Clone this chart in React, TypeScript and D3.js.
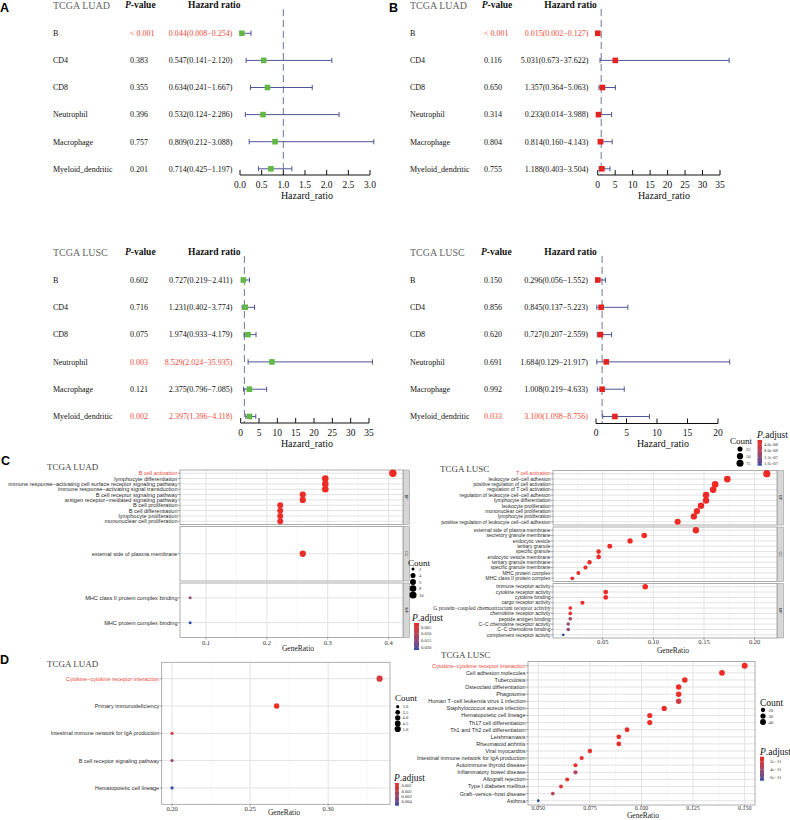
import React from 'react';
import * as d3 from 'd3';

const SERIF = '"Liberation Serif", "DejaVu Serif", serif';
const SANS = '"Liberation Sans", Arial, sans-serif';

// ---------------- Forest plot data ----------------
const cellTypes = ['B', 'CD4', 'CD8', 'Neutrophil', 'Macrophage', 'Myeloid_dendritic'];

const luadTimerP = ['< 0.001', '0.383', '0.355', '0.396', '0.757', '0.201'];
const luadTimerHR = [0.044, 0.547, 0.634, 0.532, 0.809, 0.714];
const luadTimerLow = [0.008, 0.141, 0.241, 0.124, 0.212, 0.425];
const luadTimerHigh = [0.254, 2.12, 1.667, 2.286, 3.088, 1.197];

const luadCibP = ['< 0.001', '0.116', '0.650', '0.314', '0.804', '0.755'];
const luadCibHR = [0.015, 5.031, 1.357, 0.233, 0.814, 1.188];
const luadCibLow = [0.002, 0.673, 0.364, 0.014, 0.16, 0.403];
const luadCibHigh = [0.127, 37.622, 5.063, 3.988, 4.143, 3.504];

const luscTimerP = ['0.602', '0.716', '0.075', '0.003', '0.121', '0.002'];
const luscTimerHR = [0.727, 1.231, 1.974, 8.529, 2.375, 2.397];
const luscTimerLow = [0.219, 0.402, 0.933, 2.024, 0.796, 1.396];
const luscTimerHigh = [2.411, 3.774, 4.179, 35.935, 7.085, 4.118];

const luscCibP = ['0.150', '0.856', '0.620', '0.691', '0.992', '0.033'];
const luscCibHR = [0.296, 0.845, 0.727, 1.684, 1.008, 3.1];
const luscCibLow = [0.056, 0.137, 0.207, 0.129, 0.219, 1.098];
const luscCibHigh = [1.552, 5.223, 2.559, 21.917, 4.633, 8.756];

const hrTicks3 = [0, 0.5, 1, 1.5, 2, 2.5, 3];
const hrTicks35 = [0, 5, 10, 15, 20, 25, 30, 35];
const hrTicks20 = [0, 5, 10, 15, 20];

// ---------------- GO / KEGG data ----------------
const luadBPTerms = ['B cell activation', 'lymphocyte differentiation', 'immune response−activating cell surface receptor signaling pathway', 'immune response−activating signal transduction', 'B cell receptor signaling pathway', 'antigen receptor−mediated signaling pathway', 'B cell proliferation', 'B cell differentiation', 'lymphocyte proliferation', 'mononuclear cell proliferation'];
const luadBPRatio = [0.407, 0.296, 0.296, 0.296, 0.259, 0.259, 0.222, 0.222, 0.222, 0.222];
const luadBPCount = [11, 8, 8, 8, 7, 7, 6, 6, 6, 6];
const luadBPPadj = [0.002, 0.0021, 0.0021, 0.0021, 0.0023, 0.0023, 0.0025, 0.0025, 0.0025, 0.0025];
const luadCCTerms = ['external side of plasma membrane'];
const luadCCRatio = [0.259];
const luadCCCount = [7];
const luadCCPadj = [0.0027];
const luadMFTerms = ['MHC class II protein complex binding', 'MHC protein complex binding'];
const luadMFRatio = [0.074, 0.074];
const luadMFCount = [2, 2];
const luadMFPadj = [0.014, 0.0223];

const luscBPTerms = ['T cell activation', 'leukocyte cell−cell adhesion', 'positive regulation of cell activation', 'regulation of T cell activation', 'regulation of leukocyte cell−cell adhesion', 'lymphocyte differentiation', 'leukocyte proliferation', 'mononuclear cell proliferation', 'lymphocyte proliferation', 'positive regulation of leukocyte cell−cell adhesion'];
const luscBPRatio = [0.212, 0.173, 0.161, 0.159, 0.152, 0.152, 0.147, 0.143, 0.14, 0.124];
const luscBPCount = [81, 66, 61, 60, 58, 58, 56, 54, 53, 47];
const luscBPPadj = [1.3e-8, 1.3e-8, 1.3e-8, 1.3e-8, 1.3e-8, 1.3e-8, 1.3e-8, 1.3e-8, 1.3e-8, 1.4e-8];
const luscCCTerms = ['external side of plasma membrane', 'secretory granule membrane', 'endocytic vesicle', 'tertiary granule', 'specific granule', 'endocytic vesicle membrane', 'tertiary granule membrane', 'specific granule membrane', 'MHC protein complex', 'MHC class II protein complex'];
const luscCCRatio = [0.142, 0.091, 0.077, 0.057, 0.046, 0.046, 0.037, 0.033, 0.026, 0.02];
const luscCCCount = [54, 35, 29, 22, 17, 17, 14, 13, 10, 8];
const luscCCPadj = [1.3e-8, 1.3e-8, 1.4e-8, 1.5e-8, 1.6e-8, 1.6e-8, 1.7e-8, 1.8e-8, 1.9e-8, 2.0e-8];
const luscMFTerms = ['immune receptor activity', 'cytokine receptor activity', 'cytokine binding', 'cargo receptor activity', 'G protein−coupled chemoattractant receptor activity', 'chemokine receptor activity', 'peptide antigen binding', 'C−C chemokine receptor activity', 'C−C chemokine binding', 'complement receptor activity'];
const luscMFRatio = [0.092, 0.053, 0.053, 0.03, 0.018, 0.018, 0.018, 0.016, 0.016, 0.011];
const luscMFCount = [35, 20, 20, 11, 7, 7, 7, 6, 6, 4];
const luscMFPadj = [1.3e-8, 1.5e-8, 1.5e-8, 1.6e-8, 2.0e-8, 2.2e-8, 9.5e-8, 1.05e-7, 1.2e-7, 1.72e-7];

const luadKeggTerms = ['Cytokine−cytokine receptor interaction', 'Primary immunodeficiency', 'Intestinal immune network for IgA production', 'B cell receptor signaling pathway', 'Hematopoietic cell lineage'];
const luadKeggRatio = [0.333, 0.267, 0.2, 0.2, 0.2];
const luadKeggCount = [5, 4, 3, 3, 3];
const luadKeggPadj = [0.0012, 0.0005, 0.0014, 0.003, 0.0048];

const luscKeggTerms = ['Cytokine−cytokine receptor interaction', 'Cell adhesion molecules', 'Tuberculosis', 'Osteoclast differentiation', 'Phagosome', 'Human T−cell leukemia virus 1 infection', 'Staphylococcus aureus infection', 'Hematopoietic cell lineage', 'Th17 cell differentiation', 'Th1 and Th2 cell differentiation', 'Leishmaniasis', 'Rheumatoid arthritis', 'Viral myocarditis', 'Intestinal immune network for IgA production', 'Autoimmune thyroid disease', 'Inflammatory bowel disease', 'Allograft rejection', 'Type I diabetes mellitus', 'Graft−versus−host disease', 'Asthma'];
const luscKeggRatio = [0.15, 0.139, 0.121, 0.118, 0.118, 0.118, 0.111, 0.104, 0.104, 0.093, 0.089, 0.089, 0.075, 0.071, 0.068, 0.068, 0.064, 0.061, 0.057, 0.05];
const luscKeggCount = [42, 39, 34, 33, 33, 33, 31, 29, 29, 26, 25, 25, 21, 20, 19, 19, 18, 17, 16, 14];
const luscKeggPadj = [7.2e-12, 7.5e-12, 8e-12, 8e-12, 8.5e-12, 1.9e-11, 9e-12, 9.5e-12, 9.5e-12, 1e-11, 1e-11, 1e-11, 1.1e-11, 1.1e-11, 1.2e-11, 3.4e-11, 1.2e-11, 1.3e-11, 3.0e-11, 6.9e-11];

const goLuadTicks = [0.1, 0.2, 0.3, 0.4];
const goLuscTicks = [0.05, 0.1, 0.15, 0.2];
const keggLuadTicks = [0.2, 0.25, 0.3];
const keggLuscTicks = [0.05, 0.075, 0.1, 0.125, 0.15];

const countLegendLuadGO = [2, 4, 6, 8, 10];
const countLegendLuscGO = [25, 50, 75];
const countLegendLuadKegg = [3, 3.5, 4, 4.5, 5];
const countLegendLuscKegg = [20, 30, 40];
const padjBreaksLuadGO = [0.005, 0.01, 0.015, 0.02];
const padjBreaksLuscGO = [4e-8, 8e-8, 1.2e-7, 1.6e-7];
const padjBreaksLuadKegg = [0.001, 0.002, 0.003, 0.004];
const padjBreaksLuscKegg = [2e-11, 4e-11, 6e-11];

const highlightTerms = ['B cell activation', 'T cell activation', 'Cytokine−cytokine receptor interaction'];
const serifTerms = ['G protein−coupled chemoattractant receptor activity'];

// ---------------- styles ----------------
const RED_TXT = '#ef4a38';
const GREEN = '#62b843';
const RED_SQ = '#e42320';
const BAR = '#4e5596';
const DASH = '#70759c';
const GO_LOW = '#ee2a24';
const GO_HIGH = '#2f4fa6';

const isSig = (s: string) => s.trim().startsWith('<') || parseFloat(s) < 0.05;

type FL = {
  labelX: number; pX: number; hrRight: number; pHeadX: number; hHeadX: number;
  ax0: number; ax1: number; axisY: number; headerY: number; row0: number; rowStep: number;
  lineTop: number; hrLabelX: number;
};

function Forest(props: { title: string; p: string[]; hr: number[]; low: number[]; high: number[]; color: string; ticks: number[]; fmt: (v: number) => string; L: FL }) {
  const { title, p, hr, low, high, color, ticks, fmt, L } = props;
  const x = d3.scaleLinear().domain([ticks[0], ticks[ticks.length - 1]]).range([L.ax0, L.ax1]);
  const y = d3.scaleLinear().domain([0, 1]).range([L.row0, L.row0 + L.rowStep]);
  const sq = 5.6;
  return (
    <g>
      <text x={L.labelX} y={L.headerY} dy="0.35em" fontFamily={SERIF} fontSize={10} fill="#666">{title}</text>
      <text x={L.pHeadX} y={L.headerY} dy="0.35em" fontFamily={SERIF} fontSize={9.5} fontWeight="bold" fill="#111">
        <tspan fontStyle="italic">P</tspan>-value
      </text>
      <text x={L.hHeadX} y={L.headerY} dy="0.35em" fontFamily={SERIF} fontSize={9.5} fontWeight="bold" fill="#111">Hazard ratio</text>
      <line x1={x(1)} x2={x(1)} y1={L.lineTop} y2={L.axisY} stroke={DASH} strokeWidth={1} strokeDasharray="7,4" />
      {cellTypes.map((c, i) => {
        const yy = y(i);
        const col = isSig(p[i]) ? RED_TXT : '#111';
        return (
          <g key={c}>
            <text x={L.labelX} y={yy} dy="0.35em" fontFamily={SERIF} fontSize={8} fill="#111">{c}</text>
            <text x={L.pX} y={yy} dy="0.35em" fontFamily={SERIF} fontSize={8} fill={col}>{p[i]}</text>
            <text x={L.hrRight} y={yy} dy="0.35em" textAnchor="end" fontFamily={SERIF} fontSize={8} fill={col}>
              {`${hr[i].toFixed(3)}(${low[i].toFixed(3)}−${high[i].toFixed(3)})`}
            </text>
            <line x1={x(low[i])} x2={x(high[i])} y1={yy} y2={yy} stroke={BAR} strokeWidth={1} />
            <line x1={x(low[i])} x2={x(low[i])} y1={yy - 2.6} y2={yy + 2.6} stroke={BAR} strokeWidth={1} />
            <line x1={x(high[i])} x2={x(high[i])} y1={yy - 2.6} y2={yy + 2.6} stroke={BAR} strokeWidth={1} />
            <rect x={x(hr[i]) - sq / 2} y={yy - sq / 2} width={sq} height={sq} fill={color} />
          </g>
        );
      })}
      <line x1={L.ax0} x2={L.ax1} y1={L.axisY} y2={L.axisY} stroke="#111" strokeWidth={1} />
      {ticks.map((t) => (
        <g key={t}>
          <line x1={x(t)} x2={x(t)} y1={L.axisY} y2={L.axisY - 5} stroke="#111" strokeWidth={1} />
          <text x={x(t)} y={L.axisY + 9.5} dy="0.35em" textAnchor="middle" fontFamily={SERIF} fontSize={9.5} fill="#111">{fmt(t)}</text>
        </g>
      ))}
      <text x={L.hrLabelX} y={L.axisY + 20} dy="0.35em" textAnchor="middle" fontFamily={SERIF} fontSize={10} fill="#111">Hazard_ratio</text>
    </g>
  );
}

type Facet = { strip?: string; terms: string[]; ratio: number[]; count: number[]; padj: number[] };

function sizeFn(cmin: number, cmax: number, rmin: number, rmax: number) {
  const n = d3.scaleLinear().domain([cmin, cmax]).range([0, 1]).clamp(true);
  return (c: number) => rmin + (rmax - rmin) * Math.sqrt(n(c));
}

function GoPlot(props: {
  facets: Facet[]; left: number; right: number; tops: number[]; height: number; stripW: number;
  labelSize: number; ticks: number[]; fmt: (v: number) => string; tickSize: number; tickOffset: number;
  titleX: number; titleY: number; size: (c: number) => number; color: (v: number) => string;
}) {
  const { facets, left, right, tops, height, stripW, labelSize, ticks, fmt, tickSize, tickOffset, titleX, titleY, size, color } = props;
  const allR = facets.flatMap((f) => f.ratio);
  const lo = d3.min(allR) as number;
  const hi = d3.max(allR) as number;
  const pad = (hi - lo) * 0.05;
  const x = d3.scaleLinear().domain([lo - pad, hi + pad]).range([left, right]);
  const step = ticks[1] - ticks[0];
  const minor = d3.range(ticks[0] - step / 2, ticks[ticks.length - 1] + step, step).filter((v) => x(v) > left && x(v) < right);
  const bottom = tops[tops.length - 1] + height;
  return (
    <g>
      {facets.map((f, fi) => {
        const top = tops[fi];
        const y = d3.scalePoint<string>().domain(f.terms).range([top, top + height]).padding(0.6);
        return (
          <g key={fi}>
            <rect x={left} y={top} width={right - left} height={height} fill="#fff" />
            {minor.map((m) => (
              <line key={'m' + m} x1={x(m)} x2={x(m)} y1={top} y2={top + height} stroke="#ececec" strokeWidth={0.5} />
            ))}
            {ticks.map((t) => (
              <line key={'t' + t} x1={x(t)} x2={x(t)} y1={top} y2={top + height} stroke="#e3e3e3" strokeWidth={1} />
            ))}
            {f.terms.map((t) => (
              <line key={'h' + t} x1={left} x2={right} y1={y(t)} y2={y(t)} stroke="#e3e3e3" strokeWidth={1} />
            ))}
            <rect x={left} y={top} width={right - left} height={height} fill="none" stroke="#9a9a9a" strokeWidth={0.8} />
            {f.terms.map((t) => {
              const yy = y(t) as number;
              const hl = highlightTerms.includes(t);
              const serif = serifTerms.includes(t);
              return (
                <g key={'l' + t}>
                  <line x1={left - 2} x2={left} y1={yy} y2={yy} stroke="#555" strokeWidth={0.5} />
                  <text x={left - 2.5} y={yy} dy="0.35em" textAnchor="end" fontFamily={serif ? SERIF : SANS}
                    fontSize={serif ? labelSize + 0.6 : labelSize} fill={hl ? RED_TXT : '#2a2a2a'}>{t}</text>
                </g>
              );
            })}
            {f.terms.map((t, i) => (
              <circle key={'c' + t} cx={x(f.ratio[i])} cy={y(t) as number} r={size(f.count[i])} fill={color(f.padj[i])} />
            ))}
            {f.strip && (
              <g>
                <rect x={right + 0.5} y={top} width={stripW} height={height} fill="#d6d6d6" stroke="#9a9a9a" strokeWidth={0.6} />
                <text transform={`translate(${right + 0.5 + stripW / 2},${top + height / 2}) rotate(90)`} textAnchor="middle" dy="0.35em"
                  fontFamily={SANS} fontSize={3.8} fill="#333">{f.strip}</text>
              </g>
            )}
          </g>
        );
      })}
      {ticks.map((t) => (
        <g key={'xt' + t}>
          <line x1={x(t)} x2={x(t)} y1={bottom} y2={bottom + 2} stroke="#555" strokeWidth={0.5} />
          <text x={x(t)} y={bottom + tickOffset} dy="0.35em" textAnchor="middle" fontFamily={SERIF} fontSize={tickSize} fill="#333">{fmt(t)}</text>
        </g>
      ))}
      <text x={titleX} y={titleY} dy="0.35em" textAnchor="middle" fontFamily={SERIF} fontSize={7.5} fill="#222">GeneRatio</text>
    </g>
  );
}

function CountLegend(props: { x: number; titleY: number; dotX: number; ys: number[]; values: number[]; size: (c: number) => number; fmt: (v: number) => string; labelX: number; titleSize: number }) {
  const { x, titleY, dotX, ys, values, size, fmt, labelX, titleSize } = props;
  const y = d3.scaleLinear().domain([0, values.length - 1]).range(ys);
  return (
    <g>
      <text x={x} y={titleY} dy="0.35em" fontFamily={SERIF} fontSize={titleSize} fill="#111">Count</text>
      {values.map((v, i) => (
        <g key={v}>
          <circle cx={dotX} cy={y(i)} r={size(v)} fill="#000" />
          <text x={labelX} y={y(i)} dy="0.35em" fontFamily={SERIF} fontSize={4.6} fill="#333">{fmt(v)}</text>
        </g>
      ))}
    </g>
  );
}

function ColorBar(props: { id: string; titleX: number; titleY: number; x: number; w: number; y0: number; y1: number; domain: number[]; breaks: number[]; fmt: (v: number) => string; labelX: number; color: (v: number) => string }) {
  const { id, titleX, titleY, x, w, y0, y1, domain, breaks, fmt, labelX, color } = props;
  const s = d3.scaleLinear().domain(domain).range([y0, y1]);
  const stops = d3.range(0, 1.0001, 0.1);
  return (
    <g>
      <defs>
        <linearGradient id={id} x1="0" y1="0" x2="0" y2="1">
          {stops.map((t) => (
            <stop key={t} offset={t} stopColor={color(domain[0] + t * (domain[1] - domain[0]))} />
          ))}
        </linearGradient>
      </defs>
      <text x={titleX} y={titleY} dy="0.35em" fontFamily={SERIF} fontSize={9.5} fill="#111">
        <tspan fontStyle="italic">P</tspan>.adjust
      </text>
      <rect x={x} y={y0} width={w} height={y1 - y0} fill={`url(#${id})`} />
      {breaks.map((b) => (
        <g key={b}>
          <line x1={x} x2={x + 1} y1={s(b)} y2={s(b)} stroke="#fff" strokeWidth={0.4} />
          <line x1={x + w - 1} x2={x + w} y1={s(b)} y2={s(b)} stroke="#fff" strokeWidth={0.4} />
          <text x={labelX} y={s(b)} dy="0.35em" fontFamily={SERIF} fontSize={4.6} fill="#333">{fmt(b)}</text>
        </g>
      ))}
    </g>
  );
}

const expFmt2 = (v: number) => {
  const [m, e] = v.toExponential(1).split('e');
  const sign = e.startsWith('-') ? '-' : '+';
  const d = e.replace(/[-+]/, '').padStart(2, '0');
  return `${m}e${sign}${d}`;
};
const expFmt0 = (v: number) => v.toExponential(0).replace('-', '−');

function colorScale(values: number[]) {
  const dom = [d3.min(values) as number, d3.max(values) as number];
  const c = d3.scaleLinear<string>().domain(dom).range([GO_LOW, GO_HIGH]).interpolate(d3.interpolateLab).clamp(true);
  return { dom, c };
}

export default function App() {
  const fmt1 = d3.format('.1f');
  const fmt0 = d3.format('d');

  const cLuad = colorScale([...luadBPPadj, ...luadCCPadj, ...luadMFPadj]);
  const cLusc = colorScale([...luscBPPadj, ...luscCCPadj, ...luscMFPadj]);
  const dLuad = colorScale(luadKeggPadj);
  const dLusc = colorScale(luscKeggPadj);

  const sCLuad = sizeFn(d3.min([...luadBPCount, ...luadCCCount, ...luadMFCount]) as number, d3.max([...luadBPCount, ...luadCCCount, ...luadMFCount]) as number, 1.5, 3.7);
  const sCLusc = sizeFn(d3.min([...luscBPCount, ...luscCCCount, ...luscMFCount]) as number, d3.max([...luscBPCount, ...luscCCCount, ...luscMFCount]) as number, 1.4, 3.6);
  const sDLuad = sizeFn(d3.min(luadKeggCount) as number, d3.max(luadKeggCount) as number, 1.6, 3.1);
  const sDLusc = sizeFn(d3.min(luscKeggCount) as number, d3.max(luscKeggCount) as number, 1.4, 3.0);

  const letter = (t: string, x: number, y: number) => (
    <text x={x} y={y} fontFamily={SANS} fontWeight="bold" fontSize={12.5} fill="#000">{t}</text>
  );

  return (
    <svg width={790} height={820} style={{ position: 'absolute', left: 0, top: 0, background: '#fff' }}>
      <rect x={0} y={0} width={790} height={820} fill="#fff" />
      {letter('A', 0, 12)}
      {letter('B', 389, 12)}
      {letter('C', 1, 465)}
      {letter('D', 0, 664)}

      <Forest title="TCGA LUAD" p={luadTimerP} hr={luadTimerHR} low={luadTimerLow} high={luadTimerHigh} color={GREEN}
        ticks={hrTicks3} fmt={fmt1}
        L={{ labelX: 53, pX: 130, hrRight: 232.5, pHeadX: 125, hHeadX: 188, ax0: 240, ax1: 370, axisY: 175, headerY: 5, row0: 33.3, rowStep: 27.1, lineTop: 9, hrLabelX: 307 }} />
      <Forest title="TCGA LUAD" p={luadCibP} hr={luadCibHR} low={luadCibLow} high={luadCibHigh} color={RED_SQ}
        ticks={hrTicks35} fmt={fmt0}
        L={{ labelX: 410, pX: 484, hrRight: 588.5, pHeadX: 481.7, hHeadX: 544.3, ax0: 597.7, ax1: 720, axisY: 175, headerY: 5, row0: 33.3, rowStep: 27.1, lineTop: 9, hrLabelX: 664 }} />
      <Forest title="TCGA LUSC" p={luscTimerP} hr={luscTimerHR} low={luscTimerLow} high={luscTimerHigh} color={GREEN}
        ticks={hrTicks35} fmt={fmt0}
        L={{ labelX: 53, pX: 130, hrRight: 232.5, pHeadX: 125, hHeadX: 188, ax0: 240.7, ax1: 369, axisY: 423, headerY: 252, row0: 280, rowStep: 27.3, lineTop: 256, hrLabelX: 307 }} />
      <Forest title="TCGA LUSC" p={luscCibP} hr={luscCibHR} low={luscCibLow} high={luscCibHigh} color={RED_SQ}
        ticks={hrTicks20} fmt={fmt0}
        L={{ labelX: 410, pX: 484, hrRight: 588, pHeadX: 481, hHeadX: 544.3, ax0: 596, ax1: 718, axisY: 423.5, headerY: 252, row0: 280, rowStep: 27.3, lineTop: 256, hrLabelX: 663 }} />

      {/* Panel C */}
      <text x={47} y={467} dy="0.35em" fontFamily={SERIF} fontSize={9} fill="#444">TCGA LUAD</text>
      <GoPlot
        facets={[
          { strip: 'BP', terms: luadBPTerms, ratio: luadBPRatio, count: luadBPCount, padj: luadBPPadj },
          { strip: 'CC', terms: luadCCTerms, ratio: luadCCRatio, count: luadCCCount, padj: luadCCPadj },
          { strip: 'MF', terms: luadMFTerms, ratio: luadMFRatio, count: luadMFCount, padj: luadMFPadj },
        ]}
        left={180} right={403} tops={[470, 526.5, 583]} height={54.5} stripW={6}
        labelSize={5.6} ticks={goLuadTicks} fmt={d3.format('.1f')} tickSize={6.5} tickOffset={5.5}
        titleX={298} titleY={648} size={sCLuad} color={cLuad.c} />
      <CountLegend x={408} titleY={563} dotX={413} ys={[569, 595]} values={countLegendLuadGO} size={sCLuad} fmt={fmt0} labelX={419} titleSize={9} />
      <ColorBar id="gC1" titleX={412} titleY={618} x={414} w={5} y0={623} y1={650} domain={cLuad.dom} breaks={padjBreaksLuadGO}
        fmt={d3.format('.3f')} labelX={421} color={cLuad.c} />

      <text x={440} y={469} dy="0.35em" fontFamily={SERIF} fontSize={9} fill="#444">TCGA LUSC</text>
      <GoPlot
        facets={[
          { strip: 'BP', terms: luscBPTerms, ratio: luscBPRatio, count: luscBPCount, padj: luscBPPadj },
          { strip: 'CC', terms: luscCCTerms, ratio: luscCCRatio, count: luscCCCount, padj: luscCCPadj },
          { strip: 'MF', terms: luscMFTerms, ratio: luscMFRatio, count: luscMFCount, padj: luscMFPadj },
        ]}
        left={553} right={777} tops={[470.5, 527, 583.5]} height={54.5} stripW={6}
        labelSize={5} ticks={goLuscTicks} fmt={d3.format('.2f')} tickSize={6.5} tickOffset={4}
        titleX={673} titleY={650} size={sCLusc} color={cLusc.c} />
      <CountLegend x={730} titleY={440.7} dotX={740} ys={[449, 463.3]} values={countLegendLuscGO} size={sCLusc} fmt={fmt0} labelX={746} titleSize={9} />
      <ColorBar id="gC2" titleX={757} titleY={435} x={757.5} w={4.5} y0={440} y1={465.7} domain={cLusc.dom} breaks={padjBreaksLuscGO}
        fmt={expFmt2} labelX={764} color={cLusc.c} />

      {/* Panel D */}
      <text x={47} y={664} dy="0.35em" fontFamily={SERIF} fontSize={9} fill="#444">TCGA LUAD</text>
      <GoPlot
        facets={[{ terms: luadKeggTerms, ratio: luadKeggRatio, count: luadKeggCount, padj: luadKeggPadj }]}
        left={161.7} right={390} tops={[662.3]} height={142} stripW={0}
        labelSize={5.5} ticks={keggLuadTicks} fmt={d3.format('.2f')} tickSize={6.5} tickOffset={4}
        titleX={284} titleY={812} size={sDLuad} color={dLuad.c} />
      <CountLegend x={395} titleY={698} dotX={397.7} ys={[706.7, 729]} values={countLegendLuadKegg} size={sDLuad} fmt={d3.format('.1f')} labelX={402.5} titleSize={9} />
      <ColorBar id="gD1" titleX={394} titleY={778} x={395} w={4} y0={783} y1={805.7} domain={dLuad.dom} breaks={padjBreaksLuadKegg}
        fmt={d3.format('.3f')} labelX={401.5} color={dLuad.c} />

      <text x={441} y={655} dy="0.35em" fontFamily={SERIF} fontSize={9} fill="#444">TCGA LUSC</text>
      <GoPlot
        facets={[{ terms: luscKeggTerms, ratio: luscKeggRatio, count: luscKeggCount, padj: luscKeggPadj }]}
        left={528} right={755} tops={[661.5]} height={143.5} stripW={0}
        labelSize={5.5} ticks={keggLuscTicks} fmt={d3.format('.3f')} tickSize={6} tickOffset={2.6}
        titleX={643} titleY={815.5} size={sDLusc} color={dLusc.c} />
      <CountLegend x={760} titleY={702.7} dotX={763} ys={[710, 722]} values={countLegendLuscKegg} size={sDLusc} fmt={fmt0} labelX={768.5} titleSize={9.5} />
      <ColorBar id="gD2" titleX={760} titleY={752} x={760} w={4} y0={756.7} y1={780.7} domain={dLusc.dom} breaks={padjBreaksLuscKegg}
        fmt={expFmt0} labelX={770} color={dLusc.c} />
    </svg>
  );
}
